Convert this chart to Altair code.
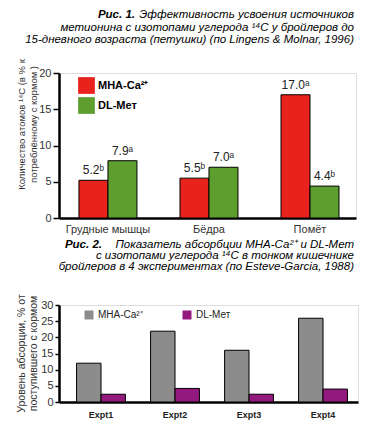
import altair as alt
import pandas as pd

# ---------- data: chart 1 ----------
tissues = ["Грудные мышцы", "Бёдра", "Помёт"]
series1 = ["MHA-Ca²⁺", "DL-Мет"]
mha_vals = [5.2, 5.5, 17.0]
dlm_vals = [7.9, 7.0, 4.4]
mha_sig = ["ᵇ", "ᵇ", "ᵃ"]
dlm_sig = ["ᵃ", "ᵃ", "ᵇ"]

# ---------- data: chart 2 ----------
expts = ["Expt1", "Expt2", "Expt3", "Expt4"]
series2 = ["MHA-Ca²⁺", "DL-Мет"]
mha2_vals = [12.0, 21.9, 16.0, 25.9]
dlm2_vals = [2.4, 4.2, 2.4, 4.0]

title1_bold = "Рис. 1."
title1_lines = ["Эффективность усвоения источников",
                "метионина с изотопами углерода ¹⁴С у бройлеров до",
                "15-дневного возраста (петушки) (по Lingens & Molnar, 1996)"]
title2_bold = "Рис. 2."
title2_lines = ["Показатель абсорбции МНА-Са²⁺ и DL-Мет",
                "с изотопами углерода ¹⁴С в тонком кишечнике",
                "бройлеров в 4 экспериментах (по Esteve-Garcia, 1988)"]

FONT = "Liberation Sans"


def text_line(txt, x, y, bold=False, size=11.5):
    return alt.Chart(pd.DataFrame({"t": [txt]})).mark_text(
        align="right", baseline="middle", font=FONT, fontSize=size,
        fontWeight="bold" if bold else "normal", fontStyle="italic",
        color="black").encode(x=alt.value(x), y=alt.value(y), text="t:N")


rows1 = []
for i, t in enumerate(tissues):
    rows1.append({"cat": t, "s": series1[0], "v": mha_vals[i],
                  "lab": f"{mha_vals[i]:.1f}{mha_sig[i]}"})
    rows1.append({"cat": t, "s": series1[1], "v": dlm_vals[i],
                  "lab": f"{dlm_vals[i]:.1f}{dlm_sig[i]}"})
df1 = pd.DataFrame(rows1)

rows2 = []
for i, e in enumerate(expts):
    rows2.append({"cat": e, "s": series2[0], "v": mha2_vals[i]})
    rows2.append({"cat": e, "s": series2[1], "v": dlm2_vals[i]})
df2 = pd.DataFrame(rows2)

W1, H1 = 297, 145
W2, H2 = 299, 97

x1 = alt.X("cat:N", sort=tissues, title=None,
           scale=alt.Scale(paddingInner=0.426, paddingOuter=0.183, align=0.54),
           axis=alt.Axis(labelAngle=0, ticks=False, domainWidth=2.5, domainColor="black",
                         labelFont=FONT, labelFontSize=11, labelColor="#333",
                         labelPadding=5))
xo1 = alt.XOffset("s:N", sort=series1, scale=alt.Scale(paddingInner=0, paddingOuter=0))
y1 = alt.Y("v:Q", scale=alt.Scale(domain=[0, 20], nice=False),
           axis=alt.Axis(values=[0, 5, 10, 15, 20], grid=False, domainWidth=2.5,
                         domainColor="black", tickColor="black", tickWidth=1.5, tickSize=6,
                         labelFont=FONT, labelFontSize=11, labelColor="#333", labelPadding=2,
                         title=["Количество атомов ¹⁴С (в % к", "потреблённому с кормом )"],
                         titleFont=FONT, titleFontSize=9.5, titleFontWeight="normal",
                         titleColor="#333", titleAngle=-90, titleAlign="center",
                         titleBaseline="middle", titleX=-38, titleY=51, titleLineHeight=12))
color1 = alt.Color("s:N", sort=series1,
                   scale=alt.Scale(domain=series1, range=["#e8221c", "#5d9e2e"]),
                   legend=alt.Legend(title=None, orient="none", legendX=19, legendY=4,
                                     symbolType="square", symbolSize=280, symbolStrokeWidth=0,
                                     symbolOpacity=1, labelFont=FONT, labelFontSize=11,
                                     labelFontWeight="bold", labelColor="black",
                                     rowPadding=3, labelOffset=3))

bars1 = alt.Chart(df1).mark_bar(stroke="black", strokeWidth=1, opacity=1).encode(
    x=x1, xOffset=xo1, y=y1, color=color1)
text1 = alt.Chart(df1).mark_text(baseline="bottom", dy=-3, font=FONT, fontSize=12,
                                 color="#222").encode(
    x=x1, xOffset=xo1, y=y1, text="lab:N")

t1_layers = [text_line(title1_bold, 76, -58, bold=True)]
for i, line in enumerate(title1_lines):
    t1_layers.append(text_line(line, 295, -58 + 12.5 * i))

chart1 = alt.layer(bars1, text1, *t1_layers).properties(width=W1, height=H1)

x2 = alt.X("cat:N", sort=expts, title=None,
           scale=alt.Scale(paddingInner=0.34, paddingOuter=0.19, align=0.625),
           axis=alt.Axis(labelAngle=0, ticks=False, domainWidth=2.5, domainColor="black",
                         labelFont=FONT, labelFontSize=9, labelFontWeight="bold",
                         labelColor="#222", labelPadding=8))
xo2 = alt.XOffset("s:N", sort=series2, scale=alt.Scale(paddingInner=0, paddingOuter=0))
y2 = alt.Y("v:Q", scale=alt.Scale(domain=[0, 30], nice=False),
           axis=alt.Axis(values=[0, 5, 10, 15, 20, 25, 30], grid=False, domainWidth=2.5,
                         domainColor="black", tickColor="black", tickWidth=1.5, tickSize=4,
                         labelFont=FONT, labelFontSize=11, labelColor="#333", labelPadding=2,
                         title=["Уровень абсорции, % от", "поступившего с кормом"],
                         titleFont=FONT, titleFontSize=10.5, titleFontWeight="normal",
                         titleColor="#333", titleAngle=-90, titleAlign="center",
                         titleBaseline="middle", titleX=-38, titleY=48, titleLineHeight=12))
color2 = alt.Color("s:N", sort=series2,
                   scale=alt.Scale(domain=series2, range=["#8c8c8c", "#93197f"]),
                   legend=alt.Legend(title=None, orient="none", legendX=25, legendY=5,
                                     direction="horizontal", columns=2, columnPadding=39,
                                     symbolType="square", symbolSize=81, symbolStrokeWidth=0,
                                     symbolOpacity=1, labelFont=FONT, labelFontSize=10,
                                     labelColor="#222", labelOffset=4))

bars2 = alt.Chart(df2).mark_bar(stroke="black", strokeWidth=1, opacity=1).encode(
    x=x2, xOffset=xo2, y=y2, color=color2)

t2_layers = [text_line(title2_bold, 43, -60, bold=True)]
for i, line in enumerate(title2_lines):
    t2_layers.append(text_line(line, 295, -60 + 11 * i))

chart2 = alt.layer(bars2, *t2_layers).properties(width=W2, height=H2)

chart = alt.vconcat(chart1, chart2, spacing=3).resolve_scale(
    color="independent", x="independent", y="independent", xOffset="independent"
).properties(padding={"left": 7, "top": 0, "right": 0, "bottom": 0}).configure_view(
    stroke=None).configure(background="white")

chart.save("out.html", embed_options={"renderer": "svg", "actions": False})
